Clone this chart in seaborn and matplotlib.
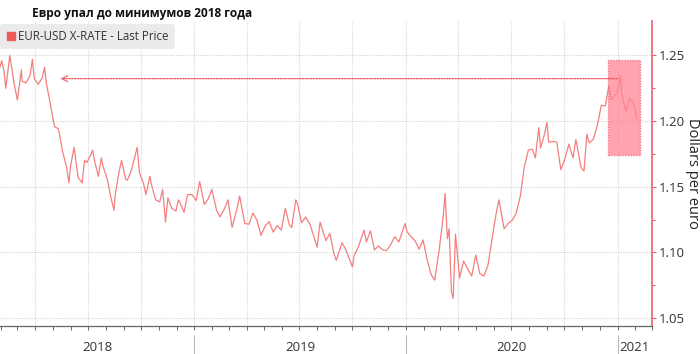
import pandas as pd
import numpy as np
import matplotlib
matplotlib.use("Agg")
import matplotlib.pyplot as plt
import matplotlib.dates as mdates
import matplotlib.transforms as mtransforms
from matplotlib.patches import Rectangle
from matplotlib.lines import Line2D
import seaborn as sns

# данные EUR/USD
dates = [
    "2018-01-30", "2018-02-02", "2018-02-06", "2018-02-09", "2018-02-16", "2018-02-23",
    "2018-03-01", "2018-03-08", "2018-03-09", "2018-03-16", "2018-03-23", "2018-03-27",
    "2018-03-30", "2018-04-06", "2018-04-13", "2018-04-17", "2018-04-20", "2018-04-27",
    "2018-05-04", "2018-05-11", "2018-05-18", "2018-05-25", "2018-05-29", "2018-06-01",
    "2018-06-07", "2018-06-14", "2018-06-21", "2018-06-25", "2018-06-29", "2018-07-06",
    "2018-07-09", "2018-07-13", "2018-07-19", "2018-07-24", "2018-07-27", "2018-08-03",
    "2018-08-10", "2018-08-15", "2018-08-17", "2018-08-24", "2018-08-28", "2018-09-04",
    "2018-09-07", "2018-09-14", "2018-09-24", "2018-09-28", "2018-10-05", "2018-10-09",
    "2018-10-16", "2018-10-19", "2018-10-26", "2018-11-02", "2018-11-07", "2018-11-12",
    "2018-11-16", "2018-11-23", "2018-11-30", "2018-12-04", "2018-12-07", "2018-12-14",
    "2018-12-20", "2018-12-28",
    "2019-01-04", "2019-01-10", "2019-01-18", "2019-01-25", "2019-01-31", "2019-02-08",
    "2019-02-14", "2019-02-22", "2019-02-28", "2019-03-07", "2019-03-15", "2019-03-20",
    "2019-03-29", "2019-04-05", "2019-04-12", "2019-04-19", "2019-04-26", "2019-05-03",
    "2019-05-10", "2019-05-17", "2019-05-24", "2019-05-31", "2019-06-07", "2019-06-14",
    "2019-06-18", "2019-06-25", "2019-06-28", "2019-07-05", "2019-07-12", "2019-07-19",
    "2019-07-26", "2019-08-01", "2019-08-06", "2019-08-16", "2019-08-23", "2019-08-30",
    "2019-09-03", "2019-09-13", "2019-09-20", "2019-10-01", "2019-10-04", "2019-10-11",
    "2019-10-21", "2019-10-25", "2019-11-01", "2019-11-08", "2019-11-15", "2019-11-22",
    "2019-11-29", "2019-12-06", "2019-12-13", "2019-12-20", "2019-12-31",
    "2020-01-03", "2020-01-10", "2020-01-17", "2020-01-24", "2020-01-31", "2020-02-07",
    "2020-02-14", "2020-02-20", "2020-02-28", "2020-03-06", "2020-03-09", "2020-03-13",
    "2020-03-16", "2020-03-20", "2020-03-23", "2020-03-27", "2020-04-03", "2020-04-10",
    "2020-04-17", "2020-04-24", "2020-05-01", "2020-05-08", "2020-05-15", "2020-05-22",
    "2020-05-29", "2020-06-05", "2020-06-10", "2020-06-19", "2020-06-26", "2020-07-03",
    "2020-07-10", "2020-07-17", "2020-07-24", "2020-07-31", "2020-08-07", "2020-08-12",
    "2020-08-18", "2020-08-21", "2020-08-28", "2020-09-01", "2020-09-04", "2020-09-11",
    "2020-09-18", "2020-09-25", "2020-10-02", "2020-10-09", "2020-10-16", "2020-10-21",
    "2020-10-30", "2020-11-04", "2020-11-09", "2020-11-13", "2020-11-20", "2020-11-27",
    "2020-12-04", "2020-12-11", "2020-12-17", "2020-12-21", "2020-12-25", "2020-12-31",
    "2021-01-06", "2021-01-08", "2021-01-15", "2021-01-22", "2021-01-29", "2021-02-03",
]
rates = [
    1.2410, 1.2460, 1.2380, 1.2250, 1.2500, 1.2295,
    1.2160, 1.2390, 1.2305, 1.2290, 1.2350, 1.2470,
    1.2325, 1.2280, 1.2330, 1.2410, 1.2290, 1.2130,
    1.1960, 1.1940, 1.1770, 1.1650, 1.1530, 1.1660,
    1.1800, 1.1570, 1.1530, 1.1700, 1.1685, 1.1745,
    1.1780, 1.1685, 1.1580, 1.1720, 1.1655, 1.1565,
    1.1410, 1.1320, 1.1440, 1.1620, 1.1700, 1.1560,
    1.1550, 1.1625, 1.1800, 1.1605, 1.1525, 1.1440,
    1.1580, 1.1510, 1.1400, 1.1385, 1.1480, 1.1230,
    1.1415, 1.1335, 1.1315, 1.1400, 1.1380, 1.1305,
    1.1440, 1.1440,
    1.1395, 1.1540, 1.1365, 1.1410, 1.1480, 1.1325,
    1.1270, 1.1335, 1.1400, 1.1190, 1.1325, 1.1430,
    1.1220, 1.1215, 1.1300, 1.1245, 1.1130, 1.1200,
    1.1235, 1.1155, 1.1205, 1.1170, 1.1335, 1.1210,
    1.1190, 1.1400, 1.1370, 1.1225, 1.1270, 1.1220,
    1.1125, 1.1040, 1.1230, 1.1090, 1.1145, 1.0990,
    1.0940, 1.1075, 1.1015, 1.0890, 1.0980, 1.1040,
    1.1170, 1.1080, 1.1165, 1.1020, 1.1050, 1.1020,
    1.1015, 1.1060, 1.1120, 1.1080, 1.1220,
    1.1160, 1.1120, 1.1090, 1.1025, 1.1095, 1.0945,
    1.0830, 1.0790, 1.1025, 1.1285, 1.1450, 1.1105,
    1.1180, 1.0700, 1.0650, 1.1140, 1.0805, 1.0935,
    1.0875, 1.0820, 1.0980, 1.0840, 1.0820, 1.0900,
    1.1100, 1.1290, 1.1400, 1.1180, 1.1220, 1.1245,
    1.1300, 1.1430, 1.1655, 1.1780, 1.1785, 1.1720,
    1.1950, 1.1795, 1.1905, 1.1990, 1.1840, 1.1845,
    1.1840, 1.1630, 1.1715, 1.1825, 1.1720, 1.1860,
    1.1645, 1.1620, 1.1900, 1.1835, 1.1860, 1.1965,
    1.2120, 1.2115, 1.2270, 1.2160, 1.2185, 1.2215,
    1.2345, 1.2220, 1.2075, 1.2170, 1.2135, 1.2020,
]
year_labels = ["2018", "2019", "2020", "2021"]

df = pd.DataFrame({"date": pd.to_datetime(dates), "rate": rates})

LINE_COLOR = "#f47f7f"
RED = "#f0606e"

sns.set_style("white")
plt.rcParams['font.family'] = ['Open Sans', 'DejaVu Sans']

fig = plt.figure(figsize=(7, 3.54), dpi=100)
ax = fig.add_axes([0.0, 0.079, 0.931, 0.861])

sns.lineplot(data=df, x="date", y="rate", ax=ax, color=LINE_COLOR, linewidth=0.9)

x_start = pd.Timestamp("2018-01-30")
x_end = pd.Timestamp("2021-03-01")
ax.set_xlim(x_start, x_end)
ax.set_ylim(1.044, 1.276)

# оси
ax.yaxis.tick_right()
ax.yaxis.set_label_position("right")
ax.set_yticks([1.05, 1.10, 1.15, 1.20, 1.25])
ax.set_yticks(np.arange(1.075, 1.27, 0.05), minor=True)
ax.yaxis.set_major_formatter(matplotlib.ticker.FormatStrFormatter("%.2f"))
ax.tick_params(axis="y", which="both", right=True, length=3, width=0.8,
               color=RED, labelsize=9.5, labelcolor="#333333", pad=2)
ax.tick_params(axis="y", which="minor", length=2)
ax.set_ylabel("Dollars per euro", rotation=270, fontsize=10.5, color="#222222")
ax.yaxis.set_label_coords(1.063, 0.5)
ax.yaxis.label.set_verticalalignment("center")
ax.set_xlabel("")

ax.xaxis.set_major_locator(mdates.MonthLocator(bymonth=[1, 4, 7, 10]))
ax.xaxis.set_minor_locator(mdates.MonthLocator())
ax.tick_params(axis="x", which="both", bottom=True, length=3, width=0.7,
               color="#666666", labelbottom=False)

for s in ["top", "left"]:
    ax.spines[s].set_visible(False)
ax.spines["right"].set_color(RED)
ax.spines["right"].set_linewidth(1.2)
ax.spines["bottom"].set_color("#666666")
ax.spines["bottom"].set_linewidth(0.9)

ax.grid(True, which="major", axis="both", color="#d8d8d8", linestyle=(0, (1, 1)), linewidth=0.8)

# подписи лет и разделители
trans = mtransforms.blended_transform_factory(ax.transData, ax.transAxes)
bounds = [x_start] + [pd.Timestamp(f"{y}-01-01") for y in year_labels[1:]] + [x_end]
for i, lab in enumerate(year_labels):
    mid = bounds[i] + (bounds[i + 1] - bounds[i]) / 2
    ax.text(mdates.date2num(mid), -0.069, lab, transform=trans, ha="center", va="center",
            fontsize=9.5, color="#333333")
for b in bounds[1:-1]:
    ax.plot([mdates.date2num(b)] * 2, [-0.03, -0.1], transform=trans, color="#bbbbbb",
            linewidth=0.8, clip_on=False)

# выделение и стрелка
rx0 = mdates.date2num(pd.Timestamp("2020-12-16"))
rx1 = mdates.date2num(pd.Timestamp("2021-02-08"))
ax.add_patch(Rectangle((rx0, 1.174), rx1 - rx0, 1.2465 - 1.174, facecolor="#ff8593",
                       alpha=0.75, edgecolor=RED, linestyle=(0, (1, 1)), linewidth=1, zorder=3))
ax.annotate("", xy=(mdates.date2num(pd.Timestamp("2018-05-14")), 1.2323),
            xytext=(mdates.date2num(pd.Timestamp("2021-01-01")), 1.2323),
            arrowprops=dict(arrowstyle="->", color=RED, linestyle=(0, (1, 1)), lw=1,
                            shrinkA=0, shrinkB=0))

# легенда
handle = Line2D([], [], marker="s", color="#f05a5a", linestyle="none", markersize=6)
leg = ax.legend([handle], ["EUR-USD X-RATE - Last Price"], loc="upper left",
                bbox_to_anchor=(0.0, 0.99), frameon=True, fontsize=8.3, handletextpad=0.2,
                handlelength=0.9, borderpad=0.5, borderaxespad=0.0, fancybox=True)
leg.get_frame().set_facecolor("#ebebeb")
leg.get_frame().set_edgecolor("none")
leg.get_frame().set_alpha(1)
for t in leg.get_texts():
    t.set_color("#333333")

fig.text(32 / 700, 1 - 14 / 354, "Евро упал до минимумов 2018 года", fontsize=8.6,
         fontweight="bold", color="#111111", va="center", ha="left")

fig.savefig("out.png", dpi=100)
